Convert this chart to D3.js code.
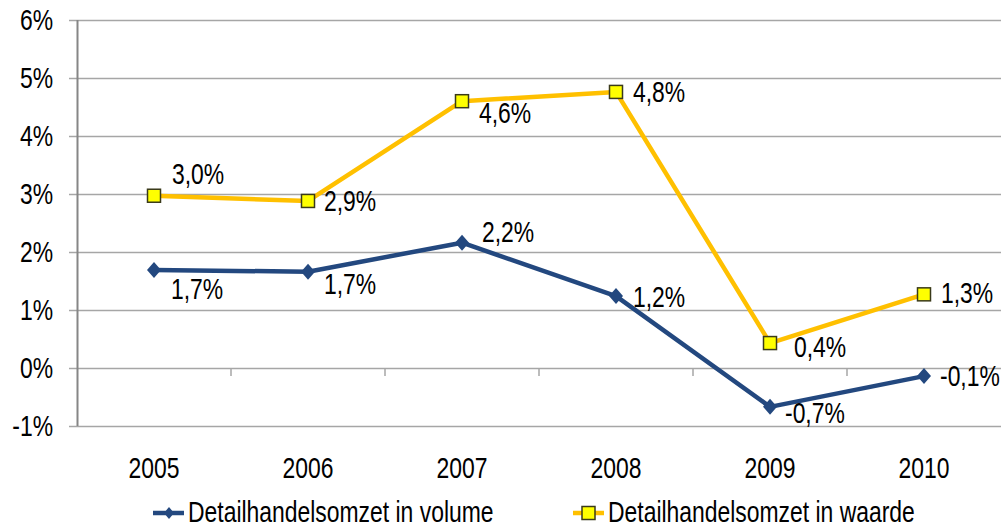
<!DOCTYPE html>
<html>
<head>
<meta charset="utf-8">
<script src="https://cdn.jsdelivr.net/npm/d3@7"></script>
<style>
  body { margin: 0; background: #fff; }
  svg text { font-family: "Liberation Sans", Arial, sans-serif; fill: #000; }
</style>
</head>
<body>
<div id="chart"></div>
<script>
(function () {
	// data
	var years = ['2005', '2006', '2007', '2008', '2009', '2010'];
	var volume = [1.69, 1.66, 2.16, 1.24, -0.67, -0.14];
	var waarde = [2.97, 2.88, 4.60, 4.76, 0.43, 1.27];
	var seriesNames = ['Detailhandelsomzet in volume', 'Detailhandelsomzet in waarde'];
	var yTicks = [-1, 0, 1, 2, 3, 4, 5, 6];

	// label offsets (dx, dy from the point)
	var volumeLabelOffsets = [[17, 29], [16, 22], [20, -1], [17, 11], [15, 16], [16, 10]];
	var waardeLabelOffsets = [[18, -12], [16, 10], [17, 22], [17, 10], [24, 14], [17, 9]];

	var width = 1003;
	var height = 529;
	var fontSize = 29;
	var squeeze = 0.79; // mimic a narrow face
	var blue = '#23487f';
	var gold = '#ffc000';
	var gridColor = '#a6a6a6';
	var axisColor = '#868686';

	var x = d3.scaleBand()
		.domain(years)
		.range([77, 1001]);
	var y = d3.scaleLinear()
		.domain([-1, 6])
		.range([426, 20]);
	var cx = d => x(d) + x.bandwidth() / 2;

	var svg = d3.select('#chart').append('svg')
		.attr('width', width).attr('height', height);

	// y axis + gridlines
	var yAxis = svg.append('g')
		.attr('transform', 'translate(69,0)')
		.call(d3.axisLeft(y)
			.tickValues(yTicks)
			.tickSize(-(1001 - 69))
			.tickPadding(16)
			.tickFormat(d => d + '%'));
	yAxis.select('.domain').remove();
	yAxis.selectAll('line').attr('stroke', gridColor).attr('stroke-width', 1.5);
	yAxis.selectAll('text')
		.attr('font-size', fontSize)
		.style('font-family', '"Liberation Sans", Arial, sans-serif')
		.call(narrow);

	// vertical axis line
	svg.append('line')
		.attr('x1', 77.5).attr('x2', 77.5)
		.attr('y1', y(6)).attr('y2', y(-1))
		.attr('stroke', axisColor).attr('stroke-width', 2);

	// category ticks on the 0% line
	var bounds = years.map(d => x(d)).concat([x.range()[1]]);
	svg.append('g').selectAll('line')
		.data(bounds.slice(1, -1))
		.enter().append('line')
		.attr('x1', d => d).attr('x2', d => d)
		.attr('y1', y(0)).attr('y2', y(0) + 8)
		.attr('stroke', gridColor).attr('stroke-width', 1.5);

	// year labels (low position)
	var xAxis = svg.append('g')
		.attr('transform', 'translate(0,' + y(-1) + ')')
		.call(d3.axisBottom(x).tickSize(0).tickPadding(31));
	xAxis.select('.domain').remove();
	xAxis.selectAll('text')
		.attr('font-size', fontSize)
		.style('font-family', '"Liberation Sans", Arial, sans-serif')
		.call(narrow);

	var line = d3.line()
		.x((d, i) => cx(years[i]))
		.y(d => y(d));

	var fmt = v => v.toFixed(1).replace('.', ',') + '%';

	// waarde series
	svg.append('path')
		.datum(waarde)
		.attr('d', line)
		.attr('fill', 'none')
		.attr('stroke', gold)
		.attr('stroke-width', 4.5)
		.attr('stroke-linejoin', 'round');

	// volume series
	svg.append('path')
		.datum(volume)
		.attr('d', line)
		.attr('fill', 'none')
		.attr('stroke', blue)
		.attr('stroke-width', 4.5)
		.attr('stroke-linejoin', 'round');

	svg.append('g').selectAll('path')
		.data(volume)
		.enter().append('path')
		.attr('transform', (d, i) => 'translate(' + [cx(years[i]), y(d)] + ')')
		.attr('d', diamond(8))
		.attr('fill', blue);

	svg.append('g').selectAll('rect')
		.data(waarde)
		.enter().append('rect')
		.attr('x', (d, i) => cx(years[i]) - 6.5)
		.attr('y', d => y(d) - 6.5)
		.attr('width', 13).attr('height', 13)
		.attr('fill', '#ffff00')
		.attr('stroke', '#3a3a1a')
		.attr('stroke-width', 1.5);

	// data labels
	svg.append('g').selectAll('text')
		.data(volume)
		.enter().append('text')
		.attr('x', (d, i) => cx(years[i]) + volumeLabelOffsets[i][0])
		.attr('y', (d, i) => y(d) + volumeLabelOffsets[i][1])
		.attr('font-size', fontSize)
		.text(fmt)
		.call(narrow);

	svg.append('g').selectAll('text')
		.data(waarde)
		.enter().append('text')
		.attr('x', (d, i) => cx(years[i]) + waardeLabelOffsets[i][0])
		.attr('y', (d, i) => y(d) + waardeLabelOffsets[i][1])
		.attr('font-size', fontSize)
		.text(fmt)
		.call(narrow);

	// legend
	var legend = svg.append('g').attr('transform', 'translate(0,513)');
	var l1 = legend.append('g').attr('transform', 'translate(153,0)');
	l1.append('line').attr('x1', 0).attr('x2', 31)
		.attr('stroke', blue).attr('stroke-width', 4.5);
	l1.append('path').attr('transform', 'translate(16,0)')
		.attr('d', diamond(6)).attr('fill', blue);
	l1.append('text').attr('x', 35).attr('y', 9)
		.attr('font-size', fontSize).text(seriesNames[0])
		.call(narrow);

	var l2 = legend.append('g').attr('transform', 'translate(573,0)');
	l2.append('line').attr('x1', 0).attr('x2', 31)
		.attr('stroke', gold).attr('stroke-width', 4.5);
	l2.append('rect').attr('x', 9).attr('y', -6.5)
		.attr('width', 13).attr('height', 13)
		.attr('fill', '#ffff00').attr('stroke', '#3a3a1a').attr('stroke-width', 1.5);
	l2.append('text').attr('x', 35).attr('y', 9)
		.attr('font-size', fontSize).text(seriesNames[1])
		.call(narrow);

	function diamond(r) {
		return 'M0,-' + r + ' L' + (r - 1) + ',0 L0,' + r + ' L-' + (r - 1) + ',0 Z';
	}

	// move x/y into a transform so the glyphs can be squeezed horizontally
	function narrow(selection) {
		selection.each(function () {
			var t = d3.select(this);
			var tx = +t.attr('x') || 0;
			var ty = +t.attr('y') || 0;
			t.attr('x', null).attr('y', null)
				.attr('transform', 'translate(' + [tx, ty] + ') scale(' + squeeze + ',1)');
		});
	}
})();
</script>
</body>
</html>
